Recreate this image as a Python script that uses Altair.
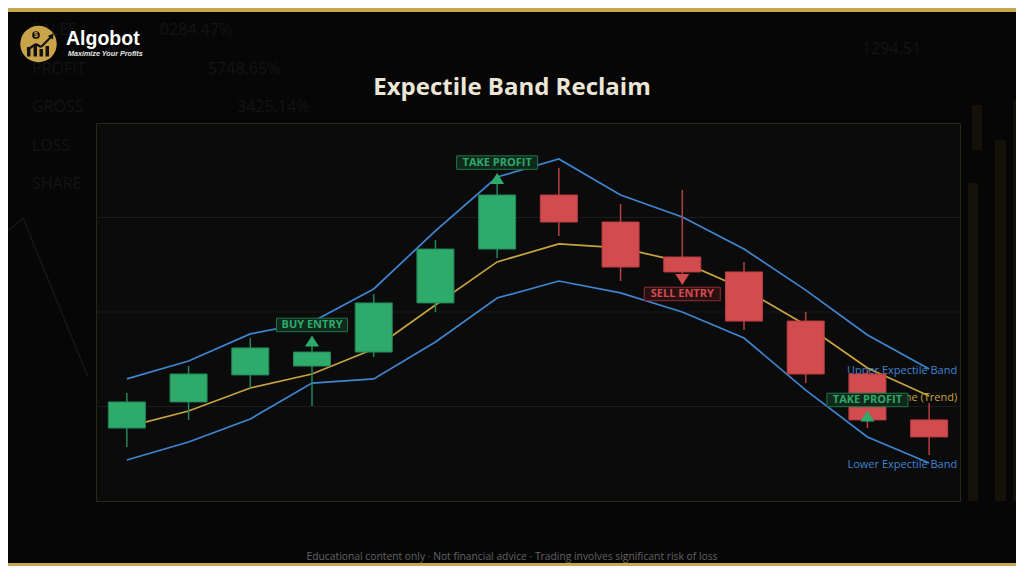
import altair as alt
import pandas as pd

# ---------------- data ----------------
TITLE = "Expectile Band Reclaim"
FOOTER = "Educational content only  ·  Not financial advice  ·  Trading involves significant risk of loss"

idx = list(range(14))
open_ = [103.86, 105.24, 106.67, 107.14, 107.88, 110.48, 113.33, 116.19, 114.76, 112.91, 112.12, 109.52, 106.72, 104.29]
high = [105.71, 107.14, 108.62, 108.20, 110.95, 113.81, 116.77, 117.62, 115.71, 116.46, 112.65, 110.00, 106.93, 105.19]
low = [102.86, 104.29, 105.98, 105.03, 107.62, 110.00, 112.86, 114.02, 111.64, 111.90, 109.05, 106.24, 103.86, 102.43]
close = [105.24, 106.72, 108.10, 107.88, 110.48, 113.33, 116.19, 114.76, 112.38, 112.12, 109.52, 106.72, 104.29, 103.39]

upper = [106.46, 107.41, 108.84, 109.47, 111.22, 114.29, 117.14, 118.10, 116.19, 115.03, 113.33, 111.16, 108.78, 106.98]
mid = [103.92, 104.76, 105.98, 106.72, 108.04, 110.37, 112.65, 113.60, 113.39, 112.65, 111.22, 109.31, 107.04, 105.56]
lower = [102.17, 103.12, 104.34, 106.24, 106.46, 108.41, 110.74, 111.64, 111.01, 110.00, 108.62, 105.87, 103.39, 102.01]

series_names = ["Upper Expectile Band", "Midline (Trend)", "Lower Expectile Band"]

ann_idx = [3, 6, 9, 12]
ann_text = ["BUY ENTRY", "TAKE PROFIT", "SELL ENTRY", "TAKE PROFIT"]
ann_side = ["long", "long", "short", "long"]
ann_dir = ["up", "up", "down", "up"]
ann_level = [108.47, 117.06, 111.72, 104.50]

grid_values = [105, 110, 115]

bg_words = [("SALES", -64, -93), ("0284.47%", 64, -93), ("PROFIT", -64, -54), ("5748.65%", 112, -54),
            ("GROSS", -64, -16), ("3425.14%", 141, -16), ("LOSS", -64, 23), ("SHARE", -64, 61),
            ("1294.51", 766, -74)]

# ---------------- styling ----------------
GREEN = "#2eaa6b"
GREEN_D = "#22875a"
RED = "#d24b4f"
RED_D = "#b83f42"
BLUE = "#3f86d2"
GOLD = "#c9a43e"
FONT = "Open Sans"

PW, PH = 864, 378
N = len(idx)
PXU_X = PW / N
YMIN, YMAX = 100, 120
PXU_Y = PH / (YMAX - YMIN)

xs = alt.Scale(domain=[-0.5, N - 0.5], nice=False, zero=False)
ys = alt.Scale(domain=[YMIN, YMAX], nice=False, zero=False)

candles = pd.DataFrame(dict(i=idx, open=open_, high=high, low=low, close=close))
half_body = 18.5 / PXU_X
candles["x1"] = candles["i"] - half_body
candles["x2"] = candles["i"] + half_body

bands = pd.DataFrame({
    "i": idx * 3,
    "value": upper + mid + lower,
    "series": [series_names[0]] * N + [series_names[1]] * N + [series_names[2]] * N,
})
ends = pd.DataFrame({"i": [idx[-1]] * 3, "value": [upper[-1], mid[-1], lower[-1]], "series": series_names})

ann = pd.DataFrame(dict(i=ann_idx, text=ann_text, side=ann_side, dir=ann_dir, level=ann_level))
ann["w"] = ann["text"].str.len() * 5 + 26
ann["x1"] = ann["i"] - ann["w"] / 2 / PXU_X
ann["x2"] = ann["i"] + ann["w"] / 2 / PXU_X
ann["cy"] = ann["level"] + ann["dir"].map({"up": 16.0, "down": -14.5}) / PXU_Y
ann["y1"] = ann["cy"] - 6.75 / PXU_Y
ann["y2"] = ann["cy"] + 6.75 / PXU_Y

series_color = alt.Color("series:N", scale=alt.Scale(domain=series_names, range=[BLUE, GOLD, BLUE]), legend=None)
is_up = alt.datum.close >= alt.datum.open
is_long = alt.datum.side == "long"

X = lambda f: alt.X(f, scale=xs, axis=None)
Y = lambda f: alt.Y(f, scale=ys, axis=None)

one = pd.DataFrame({"a": [0]})

# ---------------- decoration (background) ----------------
deco = []
for w, px, py in bg_words:
    deco.append(alt.Chart(one).mark_text(text=w, font=FONT, fontSize=16, color="#141414", align="left",
                                         baseline="middle").encode(x=alt.value(px), y=alt.value(py)))
deco.append(alt.Chart(one).mark_rule(color="#161616", strokeWidth=1.5).encode(
    x=alt.value(-88), y=alt.value(108), x2=alt.value(-73), y2=alt.value(95)))
deco.append(alt.Chart(one).mark_rule(color="#161616", strokeWidth=1.5).encode(
    x=alt.value(-73), y=alt.value(95), x2=alt.value(-8), y2=alt.value(254)))
for (a, b, c, d) in [(872, 882, 60, 378), (899, 910, 17, 378), (917, 930, -23, 378), (876, 886, -18, 27)]:
    deco.append(alt.Chart(one).mark_rect(color="#131108").encode(
        x=alt.value(a), x2=alt.value(b), y=alt.value(c), y2=alt.value(d)))

# gold strips
deco.append(alt.Chart(one).mark_rect(color="#c9a54c").encode(
    x=alt.value(-88), x2=alt.value(920), y=alt.value(-115), y2=alt.value(-111)))
deco.append(alt.Chart(one).mark_rect(color="#c9a54c").encode(
    x=alt.value(-88), x2=alt.value(920), y=alt.value(440), y2=alt.value(443)))

# logo
LX, LY = -96, -123  # page origin relative to plot
deco.append(alt.Chart(one).mark_circle(color="#c9a34a", opacity=1, size=1330).encode(
    x=alt.value(LX + 38.5), y=alt.value(LY + 44)))
for (a, b, c) in [(27, 30.5, 47), (33.5, 37, 45), (39.5, 43, 49), (45.5, 49, 46)]:
    deco.append(alt.Chart(one).mark_rect(color="#141210").encode(
        x=alt.value(LX + a), x2=alt.value(LX + b), y=alt.value(LY + c), y2=alt.value(LY + 56.5)))
for (a, b, c, d) in [(27, 50, 36, 44), (36, 44, 41, 47), (41, 47, 51, 37)]:
    deco.append(alt.Chart(one).mark_rule(color="#141210", strokeWidth=2.2).encode(
        x=alt.value(LX + a), y=alt.value(LY + b), x2=alt.value(LX + c), y2=alt.value(LY + d)))
deco.append(alt.Chart(one).mark_point(shape="triangle-right", filled=True, color="#141210", size=40, opacity=1,
                                      angle=305).encode(x=alt.value(LX + 52), y=alt.value(LY + 35.5)))
deco.append(alt.Chart(one).mark_circle(color="#141210", opacity=1, size=60).encode(
    x=alt.value(LX + 36), y=alt.value(LY + 35)))
deco.append(alt.Chart(one).mark_text(text="$", color="#c9a34a", fontSize=7, fontWeight="bold", font="Liberation Sans",
                                     baseline="middle").encode(x=alt.value(LX + 36), y=alt.value(LY + 35.3)))
deco.append(alt.Chart(one).mark_text(text="Algobot", color="#ffffff", fontSize=19.5, fontWeight="bold",
                                     font="Liberation Sans", align="left", baseline="alphabetic").encode(
    x=alt.value(LX + 66), y=alt.value(LY + 45)))
deco.append(alt.Chart(one).mark_text(text="Maximize Your Profits", color="#e6e6e6", fontSize=7.2, fontWeight="bold",
                                     fontStyle="italic", font="Liberation Sans", align="left",
                                     baseline="alphabetic").encode(x=alt.value(LX + 68), y=alt.value(LY + 56)))

# title & footer
deco.append(alt.Chart(one).mark_text(text=TITLE, color="#ede6d6", fontSize=24, fontWeight="bold", font=FONT,
                                     baseline="middle").encode(x=alt.value(LX + 512), y=alt.value(LY + 88)))
deco.append(alt.Chart(one).mark_text(text=FOOTER, color="#636363", fontSize=10.3, font=FONT,
                                     baseline="middle").encode(x=alt.value(LX + 512), y=alt.value(LY + 557)))

# ---------------- chart layers ----------------
grid = alt.Chart(pd.DataFrame({"g": grid_values})).mark_rule(color="#1b1b1b", strokeWidth=1).encode(y=Y("g:Q"))

lines = alt.Chart(bands).mark_line(strokeWidth=1.7).encode(
    x=X("i:Q"), y=Y("value:Q"), color=series_color, detail="series:N",
    strokeWidth=alt.condition(alt.datum.series == series_names[1], alt.value(1.4), alt.value(1.8)))

end_labels = alt.Chart(ends).mark_text(align="right", baseline="middle", dx=28, dy=2, fontSize=11, font=FONT).encode(
    x=X("i:Q"), y=Y("value:Q"), text="series:N", color=series_color)

wicks = alt.Chart(candles).mark_rule(strokeWidth=1.5).encode(
    x=X("i:Q"), y=Y("low:Q"), y2="high:Q",
    color=alt.condition(is_up, alt.value(GREEN_D), alt.value(RED_D)))

bodies = alt.Chart(candles).mark_rect(strokeWidth=1).encode(
    x=X("x1:Q"), x2="x2:Q", y=Y("open:Q"), y2="close:Q",
    fill=alt.condition(is_up, alt.value(GREEN), alt.value(RED)),
    stroke=alt.condition(is_up, alt.value(GREEN_D), alt.value(RED_D)))

UP = "M0,-0.79L1,0.79L-1,0.79Z"
DOWN = "M0,0.79L1,-0.79L-1,-0.79Z"
arrows = alt.Chart(ann).mark_point(filled=True, size=196, opacity=1, strokeWidth=0).encode(
    x=X("i:Q"), y=Y("level:Q"),
    shape=alt.Shape("dir:N", scale=alt.Scale(domain=["up", "down"], range=[UP, DOWN]), legend=None),
    color=alt.condition(is_long, alt.value(GREEN), alt.value(RED)))

boxes = alt.Chart(ann).mark_rect(strokeWidth=1).encode(
    x=X("x1:Q"), x2="x2:Q", y=Y("y1:Q"), y2="y2:Q",
    fill=alt.condition(is_long, alt.value("#0f2a1c"), alt.value("#2b1012")),
    stroke=alt.condition(is_long, alt.value("#1e7549"), alt.value("#8e2e31")))

box_text = alt.Chart(ann).mark_text(fontSize=11, fontWeight="bold", font=FONT, baseline="middle", dy=0.5).encode(
    x=X("i:Q"), y=Y("cy:Q"), text="text:N",
    color=alt.condition(is_long, alt.value(GREEN), alt.value(RED)))

chart = alt.layer(
    *deco, grid, lines, end_labels, wicks, bodies, arrows, boxes, box_text
).properties(
    width=PW, height=PH,
    autosize=alt.AutoSizeParams(type="none"),
    padding={"left": 88, "top": 115, "right": 56, "bottom": 65},
    background="#060606",
).configure_view(
    fill="#0b0b0b", stroke="#2b2719", strokeWidth=1
)

chart.save("out.html", embed_options={"renderer": "svg", "actions": False})
